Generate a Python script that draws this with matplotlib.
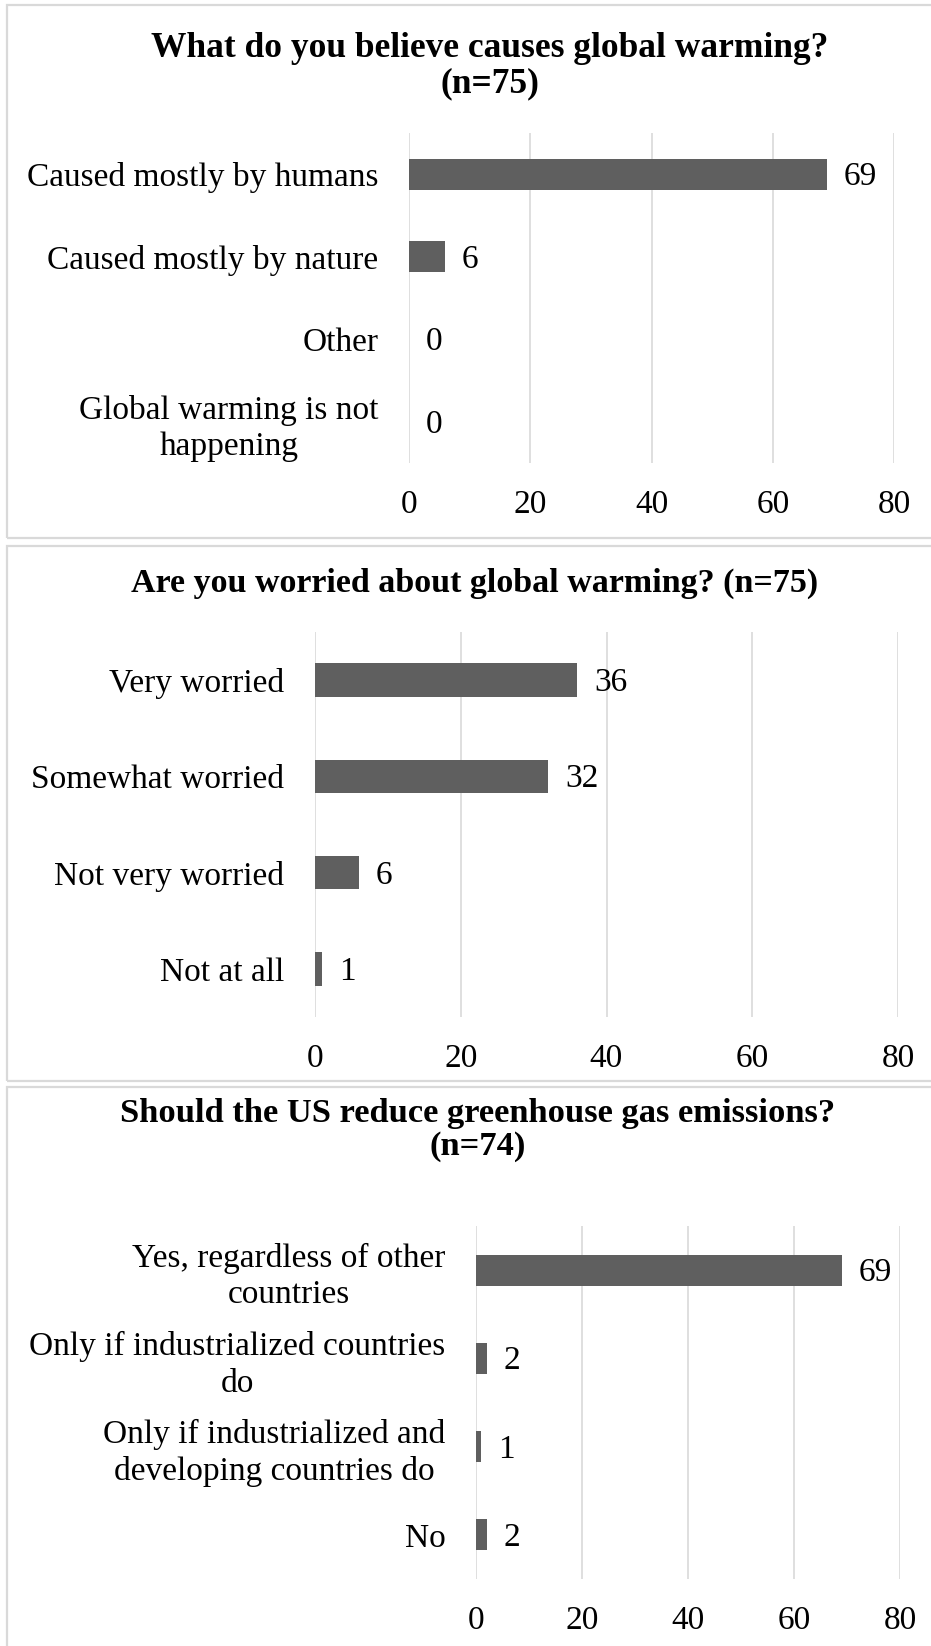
import matplotlib
matplotlib.use("Agg")
import matplotlib.pyplot as plt
from matplotlib.patches import Rectangle

plt.rcParams['font.family'] = ['Liberation Serif', 'DejaVu Serif']

# --- data ---
cause_labels = ["Caused mostly by humans", "Caused mostly by nature", "Other",
                "Global warming is not\nhappening"]
cause_values = [69, 6, 0, 0]

worry_labels = ["Very worried", "Somewhat worried", "Not very worried", "Not at all"]
worry_values = [36, 32, 6, 1]

reduce_labels = ["Yes, regardless of other\ncountries", "Only if industrialized countries\ndo",
                 "Only if industrialized and\ndeveloping countries do", "No"]
reduce_values = [69, 2, 1, 2]

titles = ["What do you believe causes global warming?\n(n=75)",
          "Are you worried about global warming? (n=75)",
          "Should the US reduce greenhouse gas emissions?\n(n=74)"]
xticks = [0, 20, 40, 60, 80]

W, H = 931, 1646
BAR = "#5f5f5f"
GRID = "#d9d9d9"
FS = 24

fig = plt.figure(figsize=(W / 100, H / 100), dpi=100)


def box(x0, y0, x1, y1):
    # pixel box (top-left origin) -> figure fraction rect
    return [x0 / W, 1 - y1 / H, (x1 - x0) / W, (y1 - y0) / H]


# panel frames
for (t, b) in [(5, 538), (546, 1081), (1087, 1700)]:
    fig.patches.append(Rectangle((7 / W, 1 - b / H), 1.2, (b - t) / H, transform=fig.transFigure,
                                 fill=False, edgecolor=GRID, lw=1.6, zorder=0))


def panel(rect, labels, values, title, title_xy, bar_h, title_fs):
    ax = fig.add_axes(box(*rect))
    y = range(len(labels))
    ax.barh(y, values, height=bar_h, color=BAR, zorder=3)
    ax.set_xlim(0, 80)
    ax.set_ylim(len(labels) - 0.5, -0.5)
    ax.set_xticks(xticks)
    ax.set_yticks(list(y))
    ax.set_yticklabels(labels)
    for lbl in ax.get_yticklabels():
        lbl.set_multialignment('center')
        lbl.set_linespacing(1.25)
    ax.tick_params(axis='both', length=0, labelsize=FS)
    ax.tick_params(axis='y', pad=22)
    ax.tick_params(axis='x', pad=19)
    ax.xaxis.grid(True, color=GRID, lw=1.2)
    ax.set_axisbelow(True)
    for s in ax.spines.values():
        s.set_visible(False)
    for yi, v in zip(y, values):
        ax.annotate(str(v), (v, yi), xytext=(12, -2), textcoords='offset points',
                    va='center', ha='left', fontsize=FS)
    fig.text(title_xy[0] / W, 1 - title_xy[1] / H, title, ha='center', va='center',
             fontsize=title_fs, fontweight='bold', linespacing=1.1)
    return ax


panel((409, 133, 894, 463), cause_labels, cause_values, titles[0], (490, 66), 0.375, 25.5)
panel((315, 632, 898, 1017), worry_labels, worry_values, titles[1], (475, 583), 0.35, 24.5)
panel((476, 1226, 900, 1579), reduce_labels, reduce_values, titles[2], (478, 1130), 0.35, 24.8)

fig.savefig("out.png", dpi=100)
